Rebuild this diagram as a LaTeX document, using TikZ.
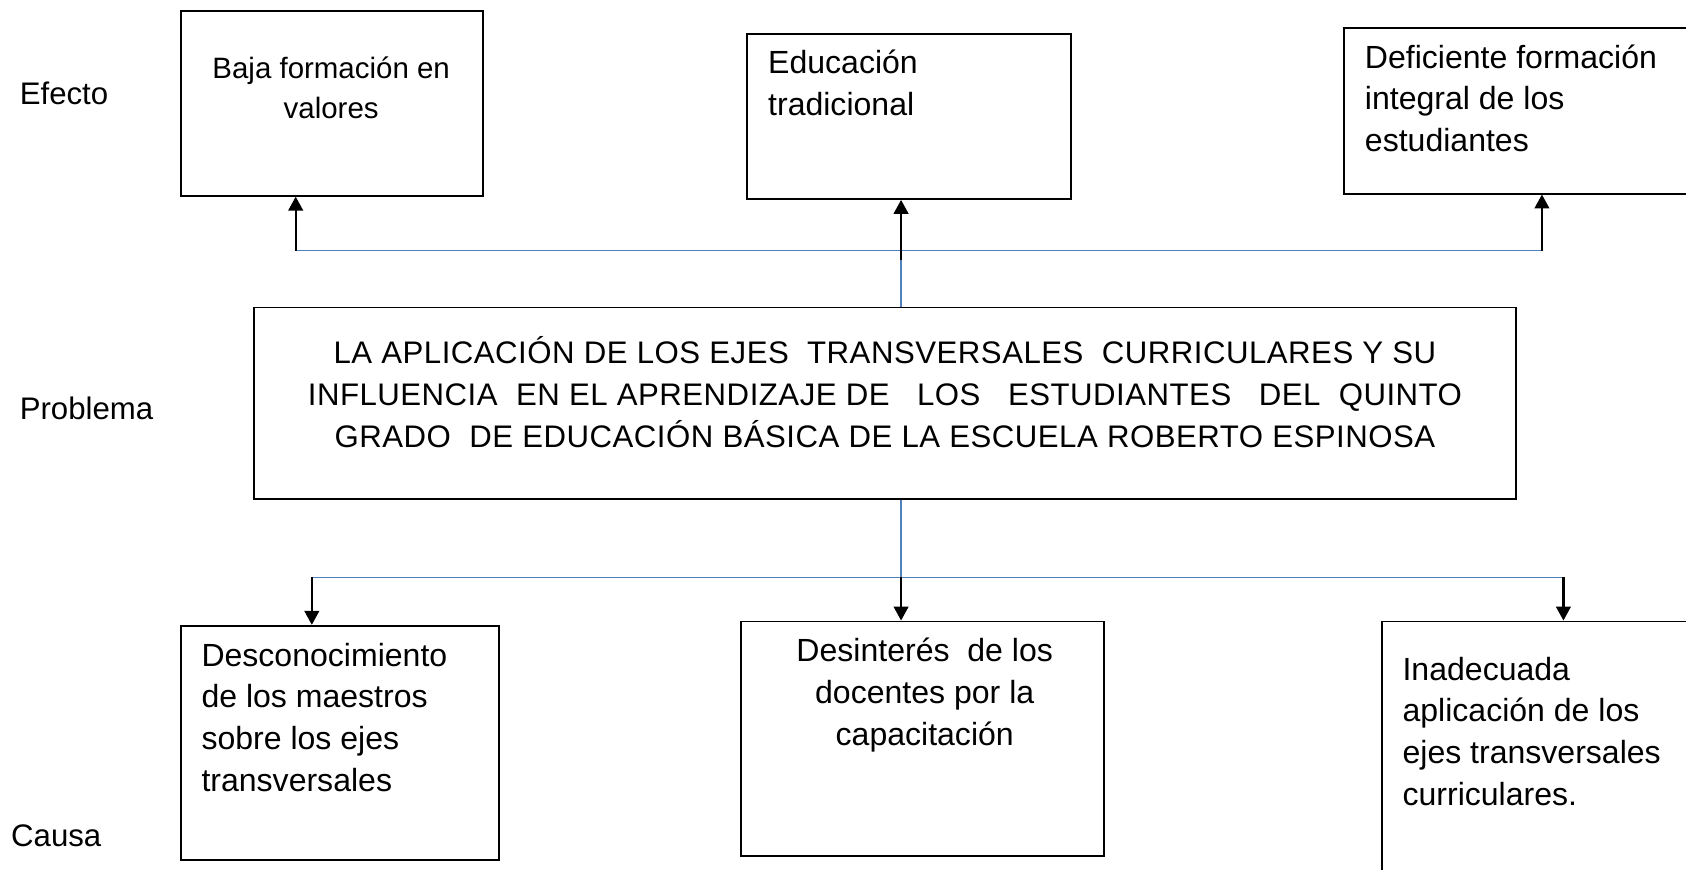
\documentclass[tikz,border=0pt]{standalone}
\usepackage{fontspec}
\setmainfont{Liberation Sans}
\usetikzlibrary{arrows.meta}
\definecolor{lineblue}{RGB}{79,129,189}
\newcommand{\tp}{\rule{0pt}{13pt}}
\begin{document}
\begin{tikzpicture}[x=0.5pt,y=-0.5pt,
  box/.style={draw=black,line width=0.9pt,inner sep=0pt},
  lbl/.style={inner sep=0pt,font=\fontsize{14.5pt}{19.4pt}\selectfont},
  txt/.style={inner sep=0pt,font=\fontsize{14.9pt}{19.4pt}\selectfont},
  smalltxt/.style={inner sep=0pt,font=\fontsize{13.7pt}{18.2pt}\selectfont},
  probtxt/.style={inner sep=0pt,font=\fontsize{14.5pt}{19.4pt}\selectfont\addfontfeature{LetterSpace=1.6}},
  bl/.style={draw=lineblue,line width=0.75pt},
  arr/.style={draw=black,line width=1.1pt,-{Triangle[width=6.8pt,length=6.5pt]}}]
\clip (0,0) rectangle (1568,809);
% side labels
\node[lbl,anchor=north west] (efecto) at (18,71) {\tp Efecto};
\node[lbl,anchor=north west] (problema) at (18,364) {\tp Problema};
\node[lbl,anchor=north west] (causa) at (10,761) {\tp Causa};
% effect boxes
\node[box,minimum width=140.5pt,minimum height=86pt] (b1) at (308.5,96) {};
\node[smalltxt,anchor=north,align=center] (t1txt) at (308,47) {\tp Baja formación en\\valores};
\node[box,minimum width=150.5pt,minimum height=76.5pt] (b2) at (845.5,108.5) {};
\node[txt,anchor=north west,align=left] (t2txt) at (714,42) {\tp Educación\\tradicional};
\node[box,minimum width=185pt,minimum height=77pt] (b3) at (1435,103) {};
\node[txt,anchor=north west,align=left] (t3txt) at (1269,37) {\tp Deficiente formación\\integral de los\\estudiantes};
% problem box
\node[box,minimum width=587pt,minimum height=89pt] (prob) at (823,375) {};
\node[probtxt,anchor=north,align=center] (ptxt) at (823,312) {\tp LA APLICACIÓN DE LOS EJES\ \ TRANSVERSALES\ \ CURRICULARES Y SU\\
INFLUENCIA\ \ EN EL APRENDIZAJE DE\ \ \ LOS\ \ \ ESTUDIANTES\ \ \ DEL\ \ QUINTO\\
GRADO\ \ DE EDUCACIÓN BÁSICA DE LA ESCUELA ROBERTO ESPINOSA};
% cause boxes
\node[box,minimum width=148pt,minimum height=109pt] (b4) at (316,691) {};
\node[txt,anchor=north west,align=left] (t4txt) at (187,593) {\tp Desconocimiento\\de los maestros\\sobre los ejes\\transversales};
\node[box,minimum width=169pt,minimum height=109pt] (b5) at (858,687) {};
\node[txt,anchor=north,align=center] (t5txt) at (860,589) {\tp Desinterés\ \ de los\\docentes por la\\capacitación};
\node[box,minimum width=167.5pt,minimum height=131pt] (b6) at (1452.5,709) {};
\node[txt,anchor=north west,align=left] (t6txt) at (1304,606) {\tp Inadecuada\\aplicación de los\\ejes transversales\\curriculares.};
% connectors
\coordinate (u1) at (275,233);
\coordinate (u2) at (838,233);
\coordinate (u2b) at (838,242);
\coordinate (u3) at (1434,233);
\coordinate (d1) at (290,537);
\coordinate (d2) at (838,537);
\coordinate (d3) at (1454,537);
\draw[bl] (u1) -- (u3);
\draw[bl] (u2) -- (u2 |- prob.north);
\draw[bl] (prob.south -| d2) -- (d2);
\draw[bl] (d1) -- (d3);
\draw[arr] (u1) -- (u1 |- b1.south);
\draw[arr] (u2b) -- (u2 |- b2.south);
\draw[arr] (u3) -- (u3 |- b3.south);
\draw[arr] (d1) -- (d1 |- b4.north);
\draw[arr] (d2) -- (d2 |- b5.north);
\draw[arr] (d3) -- (d3 |- b6.north);
\end{tikzpicture}
\end{document}
